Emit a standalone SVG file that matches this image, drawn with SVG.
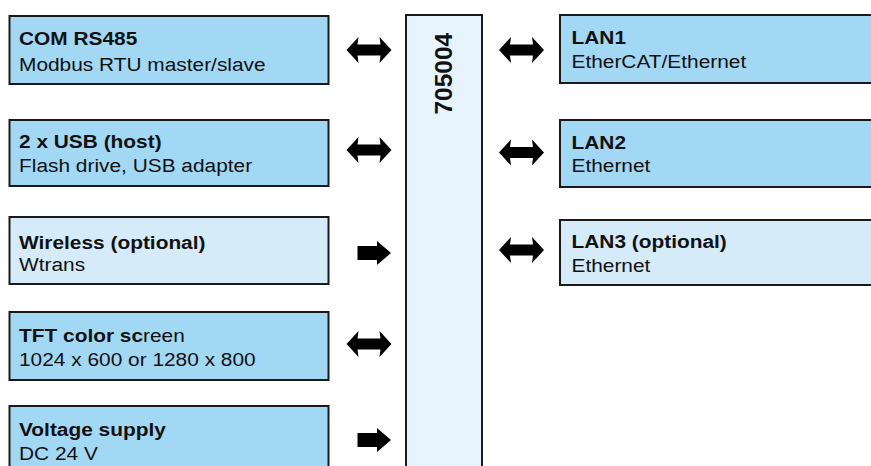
<svg xmlns="http://www.w3.org/2000/svg" width="871" height="466" viewBox="0 0 871 466">
<defs>
<style>
.box{stroke:#1a1a1a;stroke-width:2}
.dark{fill:#a3d8f5}
.light{fill:#d5ebfa}
.core{fill:#e8f4fd}
text{font-family:"Liberation Sans",Arial,sans-serif;font-size:18.8px;fill:#111}
.b{font-weight:bold}
.arr{fill:#000}
</style>
<path id="dbl" d="M0,0 L12,-13 L11,-5.5 L34,-5.5 L33,-13 L45,0 L33,13 L34,5.5 L11,5.5 L12,13 Z"/>
<path id="sgl" d="M0,-7 L19.5,-7 L19.5,-12 L33.5,0 L19.5,12 L19.5,7 L0,7 Z"/>
</defs>
<rect width="871" height="466" fill="#fff"/>

<g id="core">
<rect class="box core" x="406" y="15" width="76" height="470"/>
<text class="b" style="font-size:24.5px" text-anchor="middle" transform="translate(451.5,73.7) rotate(-90)">705004</text>
</g>

<g id="com">
<rect class="box dark" x="9.5" y="16" width="319" height="68"/>
<g transform="translate(19,0) scale(1.11,1)"><text class="b" x="0" y="45.5">COM RS485</text><text x="0" y="70.8">Modbus RTU master/slave</text></g>
</g>
<g id="usb">
<rect class="box dark" x="9.5" y="120" width="319" height="66"/>
<g transform="translate(19,0) scale(1.11,1)"><text class="b" x="0" y="148.5">2 x USB (host)</text><text x="0" y="172.5">Flash drive, USB adapter</text></g>
</g>
<g id="wireless">
<rect class="box light" x="9.5" y="217" width="319" height="67"/>
<g transform="translate(19,0) scale(1.11,1)"><text class="b" x="0" y="249.5">Wireless (optional)</text><text x="0" y="271.5">Wtrans</text></g>
</g>
<g id="tft">
<rect class="box dark" x="9.5" y="312" width="319" height="68"/>
<g transform="translate(19,0) scale(1.11,1)"><text x="0" y="342.3"><tspan class="b">TFT color sc</tspan>reen</text><text x="0" y="366">1024 x 600 or 1280 x 800</text></g>
</g>
<g id="voltage">
<rect class="box dark" x="9.5" y="406" width="319" height="80"/>
<g transform="translate(19,0) scale(1.11,1)"><text class="b" x="0" y="435.7">Voltage supply</text><text x="0" y="460">DC 24 V</text></g>
</g>

<g id="lan1">
<rect class="box dark" x="560" y="15" width="320" height="68"/>
<g transform="translate(571.5,0) scale(1.11,1)"><text class="b" x="0" y="44.3">LAN1</text><text x="0" y="67.7">EtherCAT/Ethernet</text></g>
</g>
<g id="lan2">
<rect class="box dark" x="560" y="120" width="320" height="67"/>
<g transform="translate(571.5,0) scale(1.11,1)"><text class="b" x="0" y="149.3">LAN2</text><text x="0" y="172.3">Ethernet</text></g>
</g>
<g id="lan3">
<rect class="box light" x="560" y="220" width="320" height="65"/>
<g transform="translate(571.5,0) scale(1.11,1)"><text class="b" x="0" y="247.7">LAN3 (optional)</text><text x="0" y="271.7">Ethernet</text></g>
</g>

<g id="connectors" class="arr">
<use href="#dbl" x="346.5" y="50"/>
<use href="#dbl" x="346.5" y="150"/>
<use href="#sgl" x="357.5" y="253"/>
<use href="#dbl" x="346.5" y="344"/>
<use href="#sgl" x="357.5" y="440"/>
<use href="#dbl" x="499" y="50"/>
<use href="#dbl" x="499" y="152.5"/>
<use href="#dbl" x="499" y="250"/>
</g>
</svg>
